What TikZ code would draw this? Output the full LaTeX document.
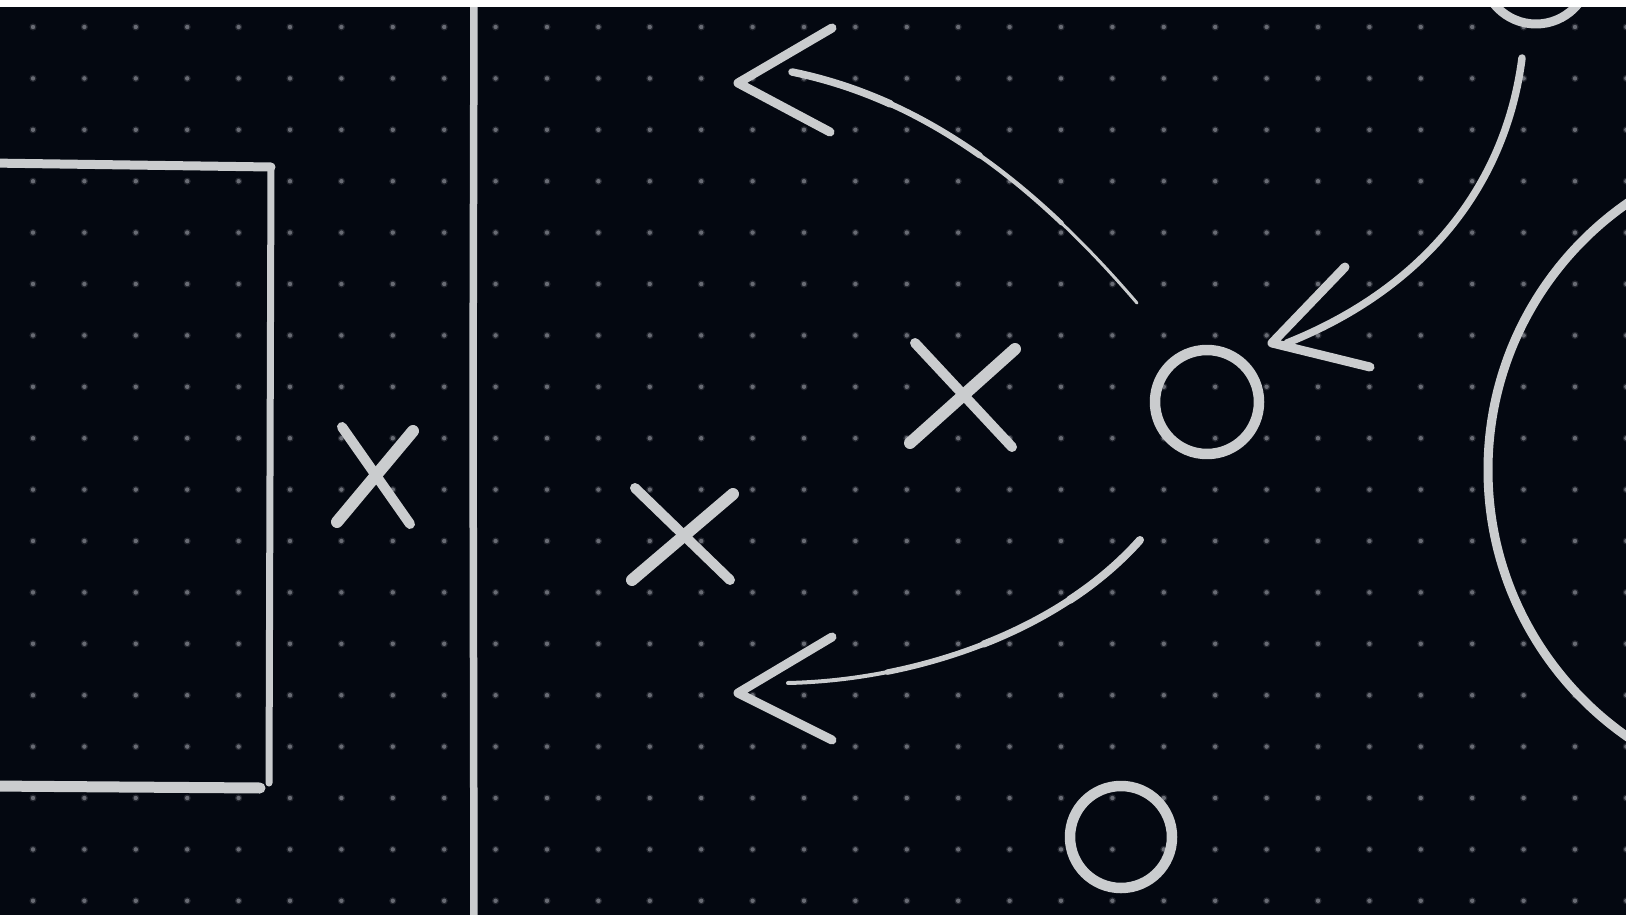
\documentclass[tikz,border=0pt]{standalone}
\usetikzlibrary{calc}
\definecolor{board}{RGB}{4,8,17}
\definecolor{dotc}{RGB}{104,107,116}
\definecolor{chalkc}{RGB}{202,204,206}
\tikzset{
  chalk/.style={draw=chalkc, line cap=round, line join=round},
  thickchalk/.style={chalk, line width=12},
}
\begin{document}
\begin{tikzpicture}[x=1pt,y=-1pt]
\useasboundingbox (0,0) rectangle (1626,915);
\clip (0,0) rectangle (1626,915);
\fill[board] (0,0) rectangle (1626,915);
% dot grid
\foreach \i in {0,...,31}{
  \foreach \j in {0,...,17}{
    \fill[dotc, opacity=0.3] ({33+51.4*\i},{27+51.4*\j}) circle (3.6);
    \fill[dotc] ({33+51.4*\i},{27+51.4*\j}) circle (2.2);
  }
}
% named points
\coordinate (boxTL) at (-10,163);
\coordinate (boxTR) at (271,167);
\coordinate (boxBR) at (269,783);
\coordinate (boxBL) at (-10,786);
\coordinate (boxBE) at (260,788);
\coordinate (midTop) at (474,4);
\coordinate (midBot) at (474,920);
\coordinate (o1) at (1207,402);
\coordinate (o2) at (1121,837);
\coordinate (o3) at (1536,-30);
\coordinate (bigc) at (1813,470);
% goal box
\draw[chalk, line width=9] (boxTL) -- (130,165) -- (boxTR);
\draw[chalk, line width=7] (boxTR) -- (boxBR);
\draw[chalk, line width=11] (boxBL) -- (120,787) -- (boxBE);
% halfway line
\draw[chalk, line width=7.5] (midTop) -- (473,400) -- (midBot);
% X players
\draw[chalk, line width=10] (342,427) -- (410,524);
\draw[thickchalk] (413,431) -- (337,522);
\draw[chalk, line width=10] (635,488) -- (730,580);
\draw[thickchalk] (733,494) -- (632,580);
\draw[chalk, line width=10] (915,343) -- (1012,447);
\draw[thickchalk] (1015,349) -- (910,443);
% O players
\draw[chalk, line width=10.5] (o1) circle (52);
\draw[chalk, line width=10.5] (o2) circle (51);
\draw[chalk, line width=9] (o3) circle (54);
% big circle
\draw[chalk, line width=9] (bigc) circle (325);
% arrow 1 (top, tapered towards tail)
\coordinate (a1tail) at (1137,303);
\coordinate (a1end) at (792,72);
\coordinate (a1tip) at (738,83);
\draw[chalk, line width=3] (a1tail) .. controls (1040,190) and (930,100) .. (a1end);
\draw[chalk, line width=4.5] (1061.6,223.2) .. controls (983.25,148.9) and (895.5,93) .. (a1end);
\draw[chalk, line width=6] (979.9,155.6) .. controls (923,115.5) and (861,86) .. (a1end);
\draw[chalk, line width=7.5] (890.5,104) .. controls (859.25,89.9) and (826.5,79) .. (a1end);
\draw[chalk, line width=9] (832,28) -- (a1tip) -- (830,132);
% arrow 2 (bottom, tapered towards head)
\coordinate (a2tail) at (1140,540);
\coordinate (a2end) at (788,683);
\coordinate (a2tip) at (738,693);
\draw[chalk, line width=4] (a2tail) .. controls (1060,630) and (920,680) .. (a2end);
\draw[chalk, line width=5.5] (a2tail) .. controls (1080,607.5) and (986.25,652.5) .. (887.4,672.1);
\draw[chalk, line width=7] (a2tail) .. controls (1100,585) and (1045,620) .. (983.5,644.1);
\draw[chalk, line width=8] (a2tail) .. controls (1120,562.5) and (1096.25,582.5) .. (1069.8,599.9);
\draw[chalk, line width=9] (832,637) -- (a2tip) -- (832,740);
% arrow 3 (right)
\coordinate (a3tail) at (1522,58);
\coordinate (a3end) at (1287,343);
\coordinate (a3tip) at (1272,343);
\draw[chalk, line width=7.5] (a3tail) .. controls (1505,190) and (1420,290) .. (a3end);
\draw[chalk, line width=9] (1345,267) -- (a3tip) -- (1370,367);
% top strip
\fill[white] (0,0) rectangle (1626,7);
\end{tikzpicture}
\end{document}
